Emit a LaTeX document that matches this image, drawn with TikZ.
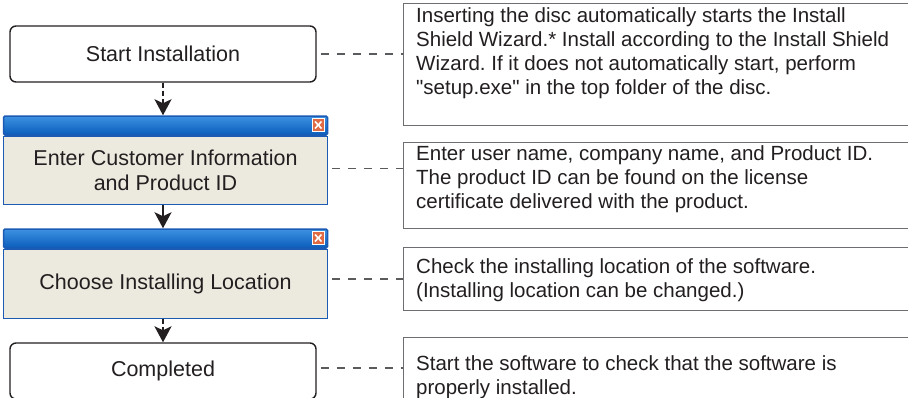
\documentclass[tikz,border=0pt]{standalone}
\usepackage{fontspec}
\setmainfont{Liberation Sans}[Ligatures=TeXOff]
\usepackage{tikz}
\usetikzlibrary{shapes,arrows.meta,positioning,calc,backgrounds}
\frenchspacing

\definecolor{ink}{HTML}{231F20}
\definecolor{leadgray}{HTML}{5A5B5D}
\definecolor{notegray}{HTML}{6D6E71}
\definecolor{frameblue}{HTML}{1C5BB4}
\definecolor{barblue}{HTML}{0A5CBA}
\definecolor{barlight}{HTML}{3D92E2}
\definecolor{winbeige}{HTML}{ECE9DF}
\definecolor{closered}{HTML}{DF6A43}

\tikzset{
  stepbox/.style={draw=ink, line width=1.4pt, rounded corners=6pt, minimum width=306pt, minimum height=56pt, inner sep=0pt, text=ink, font=\fontsize{21.5}{25}\selectfont},
  winbody/.style={draw=frameblue, line width=1.5pt, fill=winbeige, minimum width=324pt, inner sep=0pt, align=center, text=ink, font=\fontsize{21.5}{25}\selectfont},
  winbar/.style={draw=frameblue, line width=1.5pt, top color=barlight, bottom color=barblue, rounded corners=1.5pt, minimum width=324pt, minimum height=19pt, inner sep=0pt},
  closebtn/.style={fill=closered, draw=white, line width=0.5pt, minimum width=12.5pt, minimum height=13pt, inner sep=0pt, anchor=north east,
    path picture={\draw[white, line width=1.6pt] ([shift={(3pt,3pt)}]path picture bounding box.south west) -- ([shift={(-3pt,-3pt)}]path picture bounding box.north east);
                  \draw[white, line width=1.6pt] ([shift={(3pt,-3pt)}]path picture bounding box.north west) -- ([shift={(-3pt,3pt)}]path picture bounding box.south east);}},
  notebox/.style={draw=notegray, line width=1.2pt, anchor=north west, minimum width=520pt, inner sep=0pt},
  notetext/.style={anchor=base west, align=left, inner sep=0pt, text=ink, font=\fontsize{20.5}{24}\selectfont},
  flow/.style={draw=ink, line width=2pt, -{Stealth[length=16pt, width=17pt, inset=4pt]}},
  flowdash/.style={flow, dash pattern=on 5pt off 3pt},
  lead/.style={draw=leadgray, line width=1.1pt, dash pattern=on 8pt off 8pt}
}

\begin{document}
\begin{tikzpicture}[x=1pt, y=-1pt]
  \fill[white] (0,0) rectangle (908,397);
  \useasboundingbox (0,0) rectangle (908,397);

  % flow steps
  \node[stepbox] (start) at (163,54) {Start Installation};

  \node[winbar] (win1bar) at (165.5,125.5) {};
  \node[winbody, minimum height=68pt, below=0pt of win1bar] (win1) {Enter Customer Information\\and Product ID};
  \node[closebtn] (win1x) at ([xshift=-3.5pt, yshift=-3pt]win1bar.north east) {};

  \node[winbar] (win2bar) at (165.5,238.5) {};
  \node[winbody, minimum height=69pt, below=0pt of win2bar] (win2) {Choose Installing Location};
  \node[closebtn] (win2x) at ([xshift=-3.5pt, yshift=-3pt]win2bar.north east) {};

  \node[stepbox] (done) at (163,371) {Completed};

  \draw[flowdash] (start.south) -- (start.south |- win1bar.north);
  \draw[flow] (win1.south -| start.south) -- (start.south |- win2bar.north);
  \draw[flowdash] (win2.south -| start.south) -- (done.north);

  % notes (text placed by the baseline of its last line)
  \node[notebox, minimum height=121.5pt] (note1) at (403,3) {};
  \node[notebox, minimum height=85.5pt] (note2) at (403,142) {};
  \node[notebox, minimum height=63pt] (note3) at (403,247) {};
  \node[notebox, minimum height=70pt] (note4) at (403,337) {};

  \node[notetext] (note1txt) at (416,94.7) {Inserting the disc automatically starts the Install\\Shield Wizard.* Install according to the Install Shield\\Wizard. If it does not automatically start, perform\\"setup.exe" in the top folder of the disc.};
  \node[notetext] (note2txt) at (416,208) {Enter user name, company name, and Product ID.\\The product ID can be found on the license\\certificate delivered with the product.};
  \node[notetext] (note3txt) at (416,297.3) {Check the installing location of the software.\\(Installing location can be changed.)};
  \node[notetext] (note4txt) at (416,394) {Start the software to check that the software is\\properly installed.};

  \draw[lead] ([xshift=4pt]start.east) -- (start.east -| note1.west);
  \draw[lead] ([xshift=4pt, yshift=2pt]win1.east) -- ([yshift=2pt]win1.east -| note2.west);
  \draw[lead] ([xshift=4pt, yshift=5pt]win2.east) -- ([yshift=5pt]win2.east -| note3.west);
  \draw[lead] ([xshift=4pt, yshift=3pt]done.east) -- ([yshift=3pt]done.east -| note4.west);
\end{tikzpicture}
\end{document}
